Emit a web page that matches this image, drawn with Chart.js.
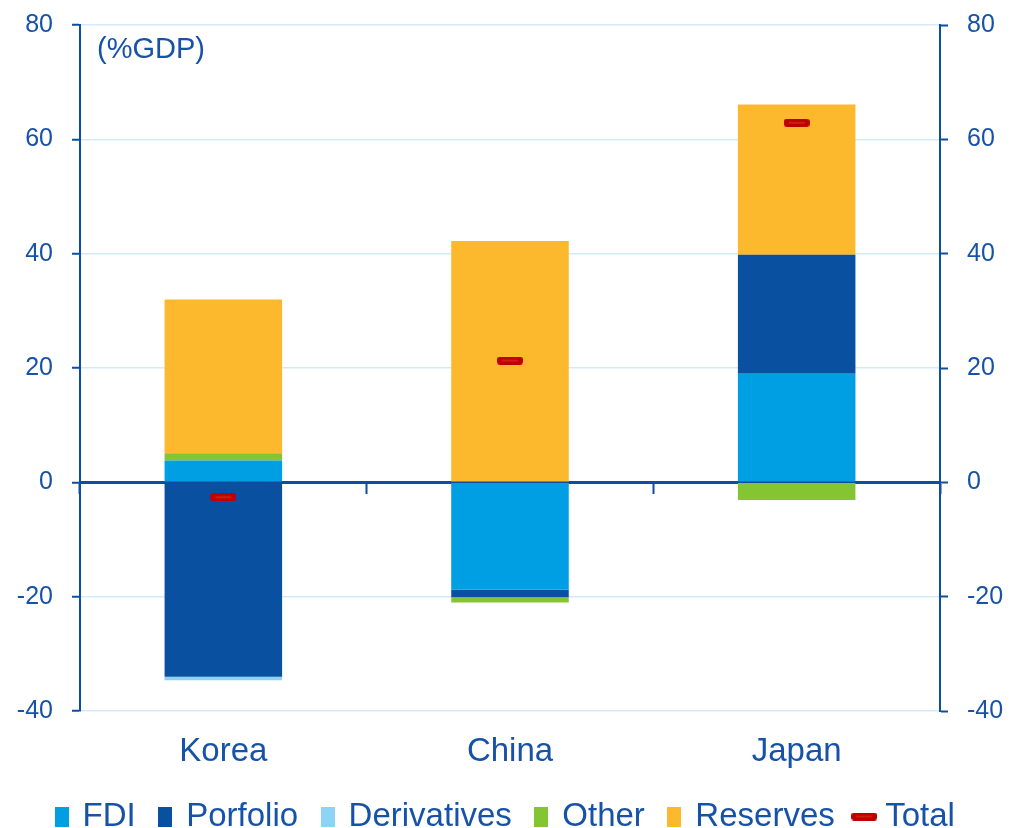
<!DOCTYPE html>
<html lang="en">
<head>
  <meta charset="UTF-8">
  <title>Korea, China, Japan | External assets (%GDP)</title>
  <script src="https://cdn.jsdelivr.net/npm/chart.js"></script>
  <style>
    body {
      margin: 0;
      background: white;
    }
    #wrap {
      width: 1012px;
      height: 828px;
    }
  </style>
</head>
<body>
  <div id="wrap">
    <canvas id="assetsChart" width="1012" height="828"></canvas>
  </div>

  <script>
    const countries = ['Korea', 'China', 'Japan'];

    const fdi = [3.8, -18.8, 19.0];
    const portfolio = [-34.0, -1.3, 20.8];
    const derivatives = [-0.6, 0, 0];
    const other = [1.3, -0.9, -3.1];
    const reserves = [26.9, 42.2, 26.3];
    const total = [-2.6, 21.3, 62.9];

    const yTicks = [-40, -20, 0, 20, 40, 60, 80];

    const BLUE_TEXT = '#1652a8';
    const AXIS = '#0b4ea2';
    const GRID = '#d3ebf7';
    const FONT = "'Liberation Sans', Arial, sans-serif";

    // small images for the legend swatches and the total marker
    function swatch(color) {
      const c = document.createElement('canvas');
      c.width = 14;
      c.height = 20;
      const g = c.getContext('2d');
      g.fillStyle = color;
      g.fillRect(0, 0, 14, 20);
      return c;
    }

    function dash() {
      const c = document.createElement('canvas');
      c.width = 26;
      c.height = 8;
      const g = c.getContext('2d');
      g.fillStyle = '#c00000';
      g.beginPath();
      g.roundRect(0, 0, 26, 8, 3);
      g.fill();
      g.fillStyle = '#d8401c';
      g.fillRect(5, 3.5, 16, 1);
      return c;
    }

    const colors = ['#009fe3', '#0a50a1', '#8dd3f5', '#86c532', '#fdb92e'];
    const totalMark = dash();
    const legendIcons = [...colors.map(swatch), totalMark];

    const gdpLabel = {
      id: 'gdpLabel',
      afterDraw(chart) {
        const { ctx, chartArea } = chart;
        ctx.save();
        ctx.font = '29px ' + FONT;
        ctx.fillStyle = BLUE_TEXT;
        ctx.textBaseline = 'middle';
        ctx.fillText('(%GDP)', chartArea.left + 17, chartArea.top + 25);
        ctx.restore();
      }
    };

    const barSet = (label, data, color) => ({
      type: 'bar',
      label: label,
      data: data,
      backgroundColor: color,
      borderWidth: 0,
      barPercentage: 0.41,
      categoryPercentage: 1,
      order: 1
    });

    const data = {
      labels: countries,
      datasets: [
        barSet('FDI', fdi, colors[0]),
        barSet('Porfolio', portfolio, colors[1]),
        barSet('Derivatives', derivatives, colors[2]),
        barSet('Other', other, colors[3]),
        barSet('Reserves', reserves, colors[4]),
        {
          type: 'line',
          label: 'Total',
          data: total,
          showLine: false,
          pointStyle: totalMark,
          pointRadius: 10,
          stack: 'total',
          order: 0
        }
      ]
    };

    // fixed axis sizes so the plot area sits where the original has it
    const fixY = width => s => {
      s.width = width;
      s.paddingTop = 0;
      s.paddingBottom = 0;
    };

    const config = {
      type: 'bar',
      data: data,
      plugins: [gdpLabel],
      options: {
        responsive: false,
        animation: false,
        layout: {
          padding: { left: 0, right: 0, top: 25, bottom: -15 }
        },
        plugins: {
          tooltip: { enabled: false },
          legend: {
            position: 'bottom',
            labels: {
              color: BLUE_TEXT,
              font: { family: FONT, size: 33 },
              usePointStyle: true,
              boxWidth: 9,
              boxHeight: 20,
              padding: 25,
              sort: (a, b) => a.datasetIndex - b.datasetIndex,
              generateLabels(chart) {
                const items = Chart.defaults.plugins.legend.labels.generateLabels(chart);
                items.forEach(it => { it.pointStyle = legendIcons[it.datasetIndex]; });
                return items;
              }
            }
          }
        },
        scales: {
          x: {
            stacked: true,
            grid: { display: false, drawTicks: false },
            border: { display: false },
            ticks: {
              color: BLUE_TEXT,
              font: { family: FONT, size: 33 },
              padding: 21
            },
            afterFit: s => { s.height = 64; }
          },
          zero: {
            type: 'category',
            axis: 'x',
            position: { y: 0 },
            offset: true,
            z: 1,
            grid: {
              display: true,
              offset: true,
              drawOnChartArea: false,
              tickLength: 10,
              tickWidth: 2,
              color: AXIS
            },
            border: { display: true, color: AXIS, width: 3 },
            ticks: { display: false }
          },
          y: {
            stacked: true,
            position: 'left',
            min: -40,
            max: 80,
            afterBuildTicks: s => { s.ticks = yTicks.map(v => ({ value: v })); },
            afterFit: fixY(80),
            grid: {
              color: GRID,
              lineWidth: 1.5,
              tickColor: AXIS,
              tickLength: 8,
              tickWidth: 2
            },
            border: { color: AXIS, width: 2 },
            ticks: {
              color: BLUE_TEXT,
              font: { family: FONT, size: 25 },
              padding: 19
            }
          },
          y2: {
            position: 'right',
            min: -40,
            max: 80,
            afterBuildTicks: s => { s.ticks = yTicks.map(v => ({ value: v })); },
            afterFit: fixY(72),
            grid: {
              drawOnChartArea: false,
              tickColor: AXIS,
              tickLength: 8,
              tickWidth: 2
            },
            border: { color: AXIS, width: 2 },
            ticks: {
              color: BLUE_TEXT,
              font: { family: FONT, size: 25 },
              padding: 19
            }
          }
        }
      }
    };

    new Chart(document.getElementById('assetsChart').getContext('2d'), config);
  </script>
</body>
</html>
